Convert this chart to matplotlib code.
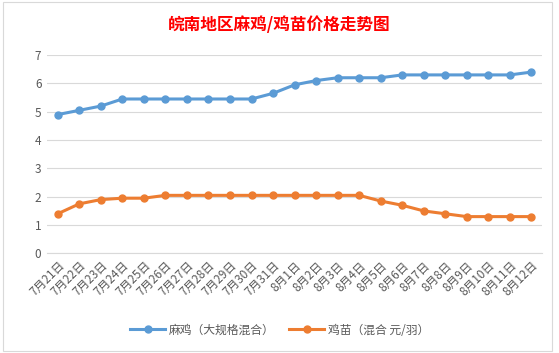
import matplotlib.pyplot as plt
from matplotlib.patches import Rectangle

plt.rcParams['font.family'] = ['Noto Sans CJK SC', 'DejaVu Sans']

dates = ['7月21日', '7月22日', '7月23日', '7月24日', '7月25日', '7月26日', '7月27日',
         '7月28日', '7月29日', '7月30日', '7月31日', '8月1日', '8月2日', '8月3日',
         '8月4日', '8月5日', '8月6日', '8月7日', '8月8日', '8月9日', '8月10日',
         '8月11日', '8月12日']
maji = [4.9, 5.05, 5.2, 5.45, 5.45, 5.45, 5.45, 5.45, 5.45, 5.45, 5.65, 5.95,
        6.1, 6.2, 6.2, 6.2, 6.3, 6.3, 6.3, 6.3, 6.3, 6.3, 6.4]
jimiao = [1.4, 1.75, 1.9, 1.95, 1.95, 2.05, 2.05, 2.05, 2.05, 2.05, 2.05, 2.05,
          2.05, 2.05, 2.05, 1.85, 1.7, 1.5, 1.4, 1.3, 1.3, 1.3, 1.3]
yticks = [0, 1, 2, 3, 4, 5, 6, 7]


def plot_chart():
    fig = plt.figure(figsize=(5.59, 3.53), dpi=100)
    fig.patch.set_facecolor('white')
    fig.patches.append(Rectangle((0.006, 0.006), 0.982, 0.988, transform=fig.transFigure,
                                 fill=False, edgecolor='#D9D9D9', lw=0.8))
    ax = fig.add_axes([0.084, 0.282, 0.886, 0.562])

    x = list(range(len(dates)))
    ax.plot(x, maji, color='#5B9BD5', lw=2.2, marker='o', ms=5,
            label='麻鸡（大规格混合）')
    ax.plot(x, jimiao, color='#ED7D31', lw=2.2, marker='o', ms=5,
            label='鸡苗（混合 元/羽）')

    ax.set_xlim(-0.5, len(dates) - 0.5)
    ax.set_ylim(0, 7)
    ax.set_yticks(yticks)
    ax.set_xticks(x)
    ax.set_xticklabels(dates, rotation=45, ha='right', rotation_mode='anchor')
    ax.tick_params(axis='both', length=0, labelsize=8.5, colors='#595959', pad=4)
    ax.grid(axis='y', color='#D9D9D9', lw=0.8)
    ax.set_axisbelow(True)
    for s in ['top', 'right', 'left']:
        ax.spines[s].set_visible(False)
    ax.spines['bottom'].set_color('#D9D9D9')

    fig.text(0.5, 0.928, '皖南地区麻鸡/鸡苗价格走势图', color='#FF0000',
             fontsize=12, fontweight='bold', ha='center', va='center')
    fig.legend(loc='center', bbox_to_anchor=(0.5, 0.065), ncol=2, frameon=False,
               fontsize=8.5, handlelength=3, columnspacing=1.2, handletextpad=0.3,
               labelcolor='#595959')

    fig.savefig('out.png', dpi=100)


if __name__ == '__main__':
    plot_chart()
